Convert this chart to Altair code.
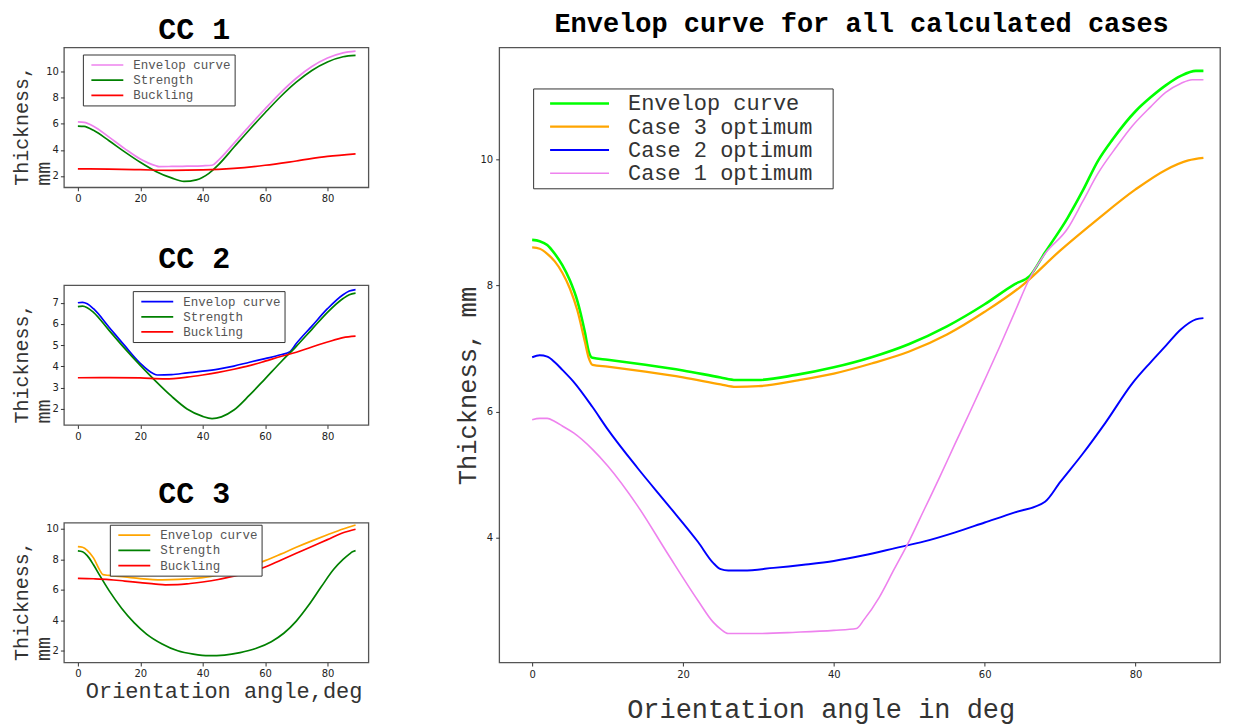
import altair as alt
import pandas as pd

MONO = "Liberation Mono"

# ---------------- CC 1 ----------------
cc1_env_x = [0, 2, 5, 10, 15, 20, 25, 26, 30, 35, 40, 43, 45, 50, 55, 60, 65, 70, 75, 80, 85, 89]
cc1_env_y = [6.15, 6.12, 5.82, 4.98, 4.1, 3.3, 2.78, 2.72, 2.73, 2.75, 2.78, 2.82, 3.2, 4.5, 5.85, 7.15, 8.4, 9.5, 10.4, 11.05, 11.45, 11.58]
cc1_str_x = [0, 2, 5, 10, 15, 20, 25, 30, 34, 38, 42, 45, 50, 55, 60, 65, 70, 75, 80, 85, 89]
cc1_str_y = [5.83, 5.8, 5.5, 4.7, 3.85, 3.05, 2.35, 1.85, 1.58, 1.7, 2.2, 2.85, 4.2, 5.55, 6.85, 8.1, 9.2, 10.1, 10.75, 11.15, 11.25]
cc1_buc_x = [0, 10, 20, 30, 40, 50, 60, 70, 80, 89]
cc1_buc_y = [2.55, 2.53, 2.48, 2.43, 2.46, 2.58, 2.82, 3.15, 3.5, 3.7]

# ---------------- CC 2 ----------------
cc2_env_x = [0, 1.5, 3, 5, 10, 15, 20, 24, 25.5, 30, 35, 40, 45, 50, 55, 60, 65, 68, 70, 75, 80, 85, 87, 89]
cc2_env_y = [7.0, 7.02, 6.95, 6.72, 5.85, 4.98, 4.15, 3.68, 3.6, 3.62, 3.7, 3.78, 3.88, 4.02, 4.2, 4.37, 4.55, 4.7, 5.08, 5.9, 6.72, 7.38, 7.55, 7.62]
cc2_str_x = [0, 1.5, 3, 5, 10, 15, 20, 25, 30, 35, 40, 43, 46, 50, 55, 60, 65, 70, 75, 80, 85, 87, 89]
cc2_str_y = [6.82, 6.84, 6.77, 6.55, 5.7, 4.85, 4.05, 3.3, 2.6, 2.0, 1.65, 1.55, 1.63, 1.95, 2.65, 3.42, 4.2, 4.95, 5.75, 6.55, 7.2, 7.38, 7.45]
cc2_buc_x = [0, 10, 20, 28, 35, 40, 45, 50, 55, 60, 65, 70, 75, 80, 85, 89]
cc2_buc_y = [3.47, 3.48, 3.46, 3.42, 3.5, 3.6, 3.72, 3.87, 4.04, 4.25, 4.47, 4.67, 4.92, 5.15, 5.36, 5.43]

# ---------------- CC 3 ----------------
cc3_env_x = [0, 1.5, 3, 5, 7, 8, 10, 15, 20, 27, 30, 35, 40, 45, 50, 55, 60, 65, 70, 75, 80, 85, 89]
cc3_env_y = [8.84, 8.8, 8.6, 8.1, 7.3, 7.0, 6.95, 6.85, 6.74, 6.66, 6.67, 6.72, 6.8, 6.98, 7.22, 7.55, 7.92, 8.35, 8.8, 9.22, 9.62, 10.0, 10.26]
cc3_str_x = [0, 1.5, 3, 5, 7, 10, 14, 18, 22, 27, 32, 37, 42, 47, 52, 57, 62, 66, 70, 74, 78, 82, 85, 87, 88, 89]
cc3_str_y = [8.56, 8.5, 8.25, 7.65, 6.95, 5.95, 4.8, 3.85, 3.1, 2.45, 2.0, 1.78, 1.68, 1.72, 1.88, 2.15, 2.6, 3.15, 3.95, 5.0, 6.2, 7.35, 8.0, 8.35, 8.5, 8.58]
cc3_buc_x = [0, 5, 10, 15, 20, 25, 28, 32, 36, 40, 45, 50, 55, 60, 65, 70, 75, 80, 85, 89]
cc3_buc_y = [6.76, 6.73, 6.68, 6.58, 6.48, 6.38, 6.33, 6.34, 6.42, 6.52, 6.68, 6.9, 7.15, 7.5, 7.95, 8.4, 8.85, 9.3, 9.75, 9.98]

# ---------------- Envelop curve for all cases ----------------
all_env_x = [0, 1, 2, 3, 4, 5, 6, 7, 7.5, 8, 10, 15, 20, 25, 27, 30, 35, 40, 45, 50, 55, 60, 64, 66, 68, 71, 73, 75, 77, 80, 82, 84, 86, 88, 89]
all_env_y = [8.72, 8.70, 8.64, 8.5, 8.32, 8.08, 7.75, 7.25, 6.95, 6.85, 6.82, 6.74, 6.65, 6.54, 6.5, 6.5, 6.58, 6.7, 6.86, 7.07, 7.35, 7.7, 8.02, 8.15, 8.52, 9.07, 9.5, 9.97, 10.32, 10.76, 10.98, 11.17, 11.32, 11.4, 11.4]
case3_x = [0, 1, 2, 3, 4, 5, 6, 7, 7.5, 8, 10, 15, 20, 25, 27, 30, 35, 40, 45, 50, 55, 60, 65, 70, 75, 80, 84, 87, 89]
case3_y = [8.6, 8.58, 8.5, 8.38, 8.2, 7.95, 7.6, 7.1, 6.85, 6.74, 6.71, 6.63, 6.54, 6.43, 6.39, 6.4, 6.49, 6.6, 6.76, 6.95, 7.22, 7.58, 8.0, 8.55, 9.05, 9.52, 9.83, 9.98, 10.02]
case2_x = [0, 1, 2, 3, 4, 5.5, 8, 10, 14, 18, 22, 24, 25, 26, 28, 32, 36, 40, 44, 48, 52, 56, 60, 64, 68, 70, 73, 76, 79.6, 82, 84, 86, 88, 89]
case2_y = [6.86, 6.89, 6.87, 6.78, 6.66, 6.47, 6.07, 5.72, 5.1, 4.52, 3.93, 3.6, 3.5, 3.48, 3.48, 3.52, 3.57, 3.63, 3.72, 3.83, 3.94, 4.08, 4.24, 4.4, 4.57, 4.88, 5.33, 5.82, 6.45, 6.78, 7.04, 7.3, 7.46, 7.48]
case1_x = [0, 1, 2, 3, 4, 5.5, 8, 10, 14, 18, 22, 24, 25, 26, 30, 35, 40, 43, 44, 46, 48, 50, 52, 54, 56, 58, 60, 62, 64, 66, 68, 71, 73, 75, 77.5, 79.6, 82, 84, 86, 87.5, 89]
case1_y = [5.87, 5.89, 5.89, 5.84, 5.77, 5.66, 5.4, 5.14, 4.5, 3.74, 3.0, 2.66, 2.55, 2.48, 2.48, 2.5, 2.53, 2.56, 2.7, 3.05, 3.5, 3.95, 4.45, 4.95, 5.47, 5.98, 6.5, 7.03, 7.58, 8.12, 8.5, 8.9, 9.33, 9.77, 10.2, 10.53, 10.83, 11.06, 11.2, 11.26, 11.26]

CC_NAMES = ["Envelop curve", "Strength", "Buckling"]
ALL_NAMES = ["Envelop curve", "Case 3 optimum", "Case 2 optimum", "Case 1 optimum"]


def long_frame(pairs):
    rows = []
    for name, xs, ys in pairs:
        for a, t in zip(xs, ys):
            rows.append({"angle": a, "thickness": t, "series": name})
    return pd.DataFrame(rows)


def small_panel(df, title, colors, ydom, yticks, lx, ly, toff, xtitle):
    base_x = dict(values=[0, 20, 40, 60, 80], labelFontSize=10, labelPadding=3,
                  tickSize=3.5, domain=False, grid=False)
    if xtitle:
        xax = alt.Axis(title="Orientation angle,deg", titleFont=MONO, titleFontSize=22,
                       titleFontWeight="normal", titleColor="#333333", titleX=160, titleY=35,
                       titleAlign="center", titleBaseline="alphabetic", **base_x)
    else:
        xax = alt.Axis(title=None, **base_x)
    yax = alt.Axis(values=yticks, title=["Thickness,", "mm"], titleFont=MONO, titleFontSize=20,
                   titleFontWeight="normal", titleColor="#333333", titleAngle=270,
                   titleAlign="left", titleBaseline="alphabetic", titleX=-36, titleY=138,
                   titleLineHeight=22, labelFontSize=10, labelPadding=2, tickSize=3.5,
                   domain=False, grid=False)
    return alt.Chart(df).mark_line(interpolate="monotone").encode(
        x=alt.X("angle:Q", scale=alt.Scale(domain=[-4.48, 93.12], nice=False, zero=False), axis=xax),
        y=alt.Y("thickness:Q", scale=alt.Scale(domain=ydom, nice=False, zero=False), axis=yax),
        color=alt.Color("series:N", scale=alt.Scale(domain=CC_NAMES, range=colors),
                        legend=alt.Legend(title=None, orient="none", legendX=lx, legendY=ly,
                                          symbolType="M-0.33,0L5,0", symbolSize=144,
                                          symbolStrokeWidth=2, labelFont=MONO, labelFontSize=12.5,
                                          labelColor="#555555", labelOffset=33, padding=3.5,
                                          rowPadding=1.2, labelLimit=400, strokeColor="#333333",
                                          fillColor="white")),
        strokeWidth=alt.StrokeWidth("series:N", scale=alt.Scale(domain=CC_NAMES, range=[1.7, 1.7, 1.5]),
                                    legend=None),
    ).properties(
        width=305, height=140,
        title=alt.TitleParams(text=title, font=MONO, fontSize=30, fontWeight="bold", color="black",
                              anchor="middle", frame="group", dx=-22, offset=toff),
    )


cc1 = small_panel(long_frame([("Envelop curve", cc1_env_x, cc1_env_y),
                              ("Strength", cc1_str_x, cc1_str_y),
                              ("Buckling", cc1_buc_x, cc1_buc_y)]),
                  "CC 1", ["violet", "green", "red"], [1.13, 11.86], [2, 4, 6, 8, 10], 19, 7, 2.7, False)
cc2 = small_panel(long_frame([("Envelop curve", cc2_env_x, cc2_env_y),
                              ("Strength", cc2_str_x, cc2_str_y),
                              ("Buckling", cc2_buc_x, cc2_buc_y)]),
                  "CC 2", ["blue", "green", "red"], [1.25, 7.83], [2, 3, 4, 5, 6, 7], 69, 6, 11, False)
cc3 = small_panel(long_frame([("Envelop curve", cc3_env_x, cc3_env_y),
                              ("Strength", cc3_str_x, cc3_str_y),
                              ("Buckling", cc3_buc_x, cc3_buc_y)]),
                  "CC 3", ["orange", "green", "red"], [1.23, 10.41], [2, 4, 6, 8, 10], 46, 2, 12.5, True)

big_df = long_frame([("Envelop curve", all_env_x, all_env_y),
                     ("Case 3 optimum", case3_x, case3_y),
                     ("Case 2 optimum", case2_x, case2_y),
                     ("Case 1 optimum", case1_x, case1_y)])

big = alt.Chart(big_df).mark_line(interpolate="monotone").encode(
    x=alt.X("angle:Q", scale=alt.Scale(domain=[-4.37, 91.2], nice=False, zero=False),
            axis=alt.Axis(values=[0, 20, 40, 60, 80], title="Orientation angle in deg",
                          titleFont=MONO, titleFontSize=27, titleFontWeight="normal",
                          titleColor="#333333", titleX=322, titleY=55, titleAlign="center",
                          titleBaseline="alphabetic", labelFontSize=10, labelPadding=4,
                          tickSize=3.5, domain=False, grid=False)),
    y=alt.Y("thickness:Q", scale=alt.Scale(domain=[2.02, 11.77], nice=False, zero=False),
            axis=alt.Axis(values=[4, 6, 8, 10], title="Thickness, mm", titleFont=MONO,
                          titleFontSize=25.5, titleFontWeight="normal", titleColor="#333333",
                          titleAngle=270, titleAlign="left", titleBaseline="alphabetic",
                          titleX=-24, titleY=438, labelFontSize=10, labelPadding=3,
                          tickSize=3.5, domain=False, grid=False)),
    color=alt.Color("series:N", scale=alt.Scale(domain=ALL_NAMES, range=["lime", "orange", "blue", "violet"]),
                    legend=alt.Legend(title=None, orient="none", legendX=34, legendY=41,
                                      symbolType="M0.33,0L10.17,0", symbolSize=144,
                                      symbolStrokeWidth=4, labelFont=MONO, labelFontSize=22,
                                      labelColor="#333333", labelOffset=69, padding=4,
                                      rowPadding=1.3, labelLimit=600, strokeColor="#333333",
                                      fillColor="white",
                                      labelExpr="datum.label + '\u2800'")),
    strokeWidth=alt.StrokeWidth("series:N", scale=alt.Scale(domain=ALL_NAMES, range=[2.6, 1.6, 1.8, 1.3]),
                                legend=None),
).properties(
    width=722, height=616,
    title=alt.TitleParams(text="Envelop curve for all calculated cases", font=MONO, fontSize=27,
                          fontWeight="bold", color="black", anchor="middle", frame="group",
                          dx=2, offset=9.5),
)

left = alt.vconcat(cc1, cc2, cc3, spacing=98, bounds="flush").resolve_scale(
    x="independent", y="independent", color="independent", strokeWidth="independent")

chart = alt.hconcat(left, big, spacing=85).resolve_scale(
    x="independent", y="independent", color="independent", strokeWidth="independent"
).properties(
    padding={"left": 3, "top": 0, "right": 5, "bottom": 0}
).configure_view(
    stroke="#555555", strokeWidth=1.3
).configure_axis(
    labelFont="DejaVu Sans", labelColor="#222222", tickColor="#333333", tickWidth=1
)

chart.save("out.html", embed_options={"renderer": "svg", "actions": False})
